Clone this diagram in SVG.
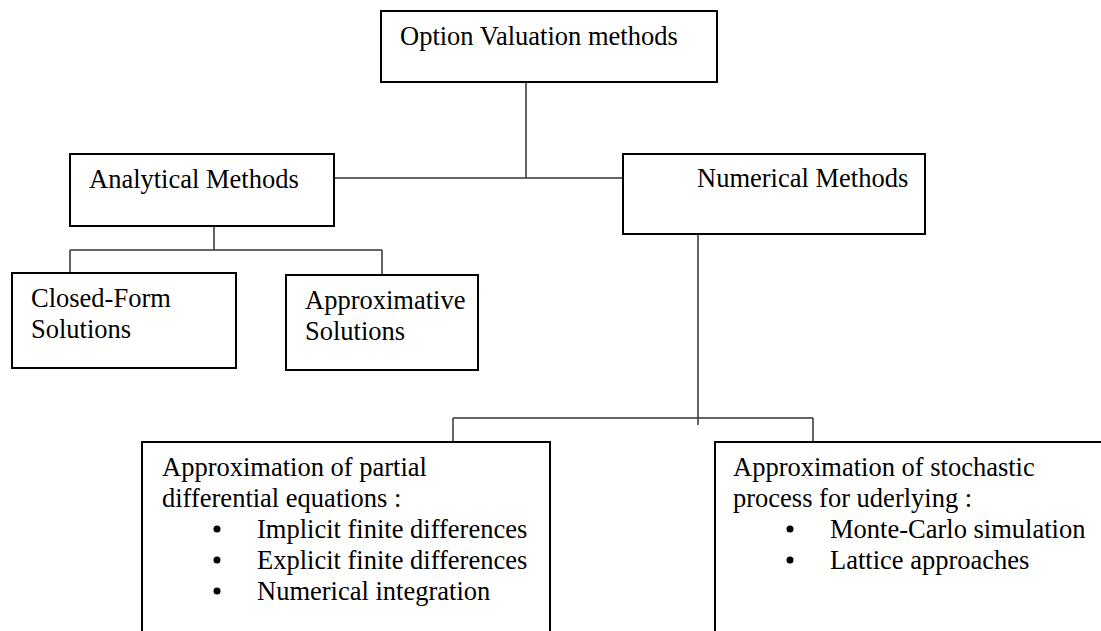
<svg xmlns="http://www.w3.org/2000/svg" width="1101" height="631" viewBox="0 0 1101 631">
<style>
.box{fill:#fff;stroke:#000;stroke-width:2}
.t{font-family:"Liberation Serif","Times New Roman",serif;font-size:26.5px;fill:#000}
.c{stroke:#333;stroke-width:1.5;fill:none}
.b{fill:#000}
</style>
<rect width="1101" height="631" fill="#fff"/>
<g id="connectors">
<path class="c" d="M526 82V178M334 178H623"/>
<path class="c" d="M214 226V250M70 250H382M70 250V273M382 250V275"/>
<path class="c" d="M698 234V425M453 418H813M453 418V442M813 418V442"/>
</g>
<g id="n-option"><rect class="box" x="381" y="11" width="336" height="71"/><text class="t" x="400" y="45">Option Valuation methods</text></g>
<g id="n-analytical"><rect class="box" x="70" y="154" width="264" height="72"/><text class="t" x="89" y="188">Analytical Methods</text></g>
<g id="n-numerical"><rect class="box" x="623" y="154" width="302" height="80"/><text class="t" x="697" y="187">Numerical Methods</text></g>
<g id="n-closed"><rect class="box" x="12" y="273" width="224" height="95"/><text class="t" x="31" y="307">Closed-Form</text><text class="t" x="31" y="338">Solutions</text></g>
<g id="n-approx"><rect class="box" x="286" y="275" width="192" height="95"/><text class="t" x="305" y="309">Approximative</text><text class="t" x="305" y="340">Solutions</text></g>
<g id="n-pde"><rect class="box" x="142" y="442" width="408" height="200"/>
<text class="t" x="162" y="476">Approximation of partial</text>
<text class="t" x="162" y="507">differential equations :</text>
<circle class="b" cx="217" cy="529" r="3.5"/><text class="t" x="257" y="538">Implicit finite differences</text>
<circle class="b" cx="217" cy="560" r="3.5"/><text class="t" x="257" y="569">Explicit finite differences</text>
<circle class="b" cx="217" cy="591" r="3.5"/><text class="t" x="257" y="600">Numerical integration</text>
</g>
<g id="n-stoch"><rect class="box" x="715" y="442" width="400" height="200"/>
<text class="t" x="733" y="476">Approximation of stochastic</text>
<text class="t" x="733" y="507">process for uderlying :</text>
<circle class="b" cx="790" cy="529" r="3.5"/><text class="t" x="830" y="538">Monte-Carlo simulation</text>
<circle class="b" cx="790" cy="560" r="3.5"/><text class="t" x="830" y="569">Lattice approaches</text>
</g>
</svg>
